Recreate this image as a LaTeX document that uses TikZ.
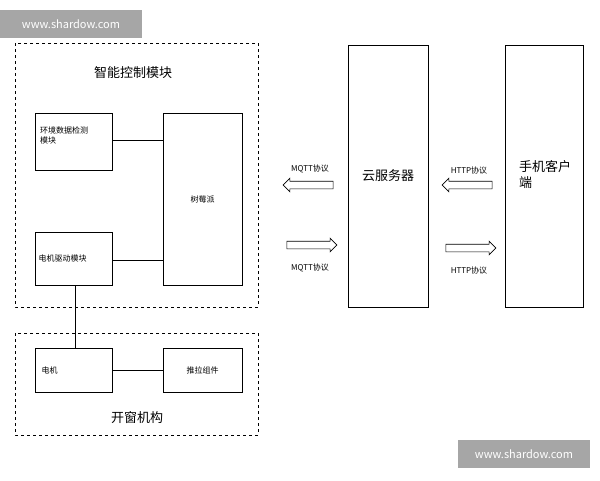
\documentclass[tikz,border=0pt]{standalone}
\usepackage{fontspec}
\setmainfont{Noto Sans CJK SC}
\usetikzlibrary{shapes.arrows}
\begin{document}
\begin{tikzpicture}[x=1pt,y=-1pt,
 box/.style={draw,line width=0.6pt,inner sep=0pt},
 dbox/.style={draw,dashed,line width=0.7pt},
 harrow/.style={single arrow,draw,line width=0.6pt,inner xsep=0pt,inner ysep=3.5pt,single arrow head extend=3pt,minimum height=50pt},
 lbl/.style={font=\fontsize{8}{10}\selectfont},
 wm/.style={fill=gray!70,text=white,font=\fontsize{11}{13}\selectfont,inner sep=0pt}]
\useasboundingbox (0,0) rectangle (600,480);
\node[wm,minimum width=142pt,minimum height=28pt] (wm1) at (71,24) {www.shardow.com};
\node[wm,minimum width=132pt,minimum height=28pt] (wm2) at (524,454) {www.shardow.com};
\draw[dbox] (15,43) rectangle (258,307);
\node[font=\fontsize{13}{15}\selectfont] (t1) at (133,73) {智能控制模块};
\draw[dbox] (15,333) rectangle (258,435);
\node[font=\fontsize{13}{15}\selectfont] (t2) at (137,418) {开窗机构};
\node[box,minimum width=77pt,minimum height=57pt] (env) at (73.5,141.5) {};
\node[lbl,align=left,anchor=north west] at (env.north west) [xshift=2pt,yshift=-10pt] {环境数据检测\\模块};
\node[box,minimum width=79pt,minimum height=172pt,lbl] (pi) at (202.5,199) {树莓派};
\node[box,minimum width=77pt,minimum height=53pt] (drv) at (73.5,258.5) {};
\node[lbl,anchor=west] at (35,258) {电机驱动模块};
\node[box,minimum width=77pt,minimum height=44pt] (mot) at (73.5,370) {};
\node[lbl,anchor=west] at (38,370) {电机};
\node[box,minimum width=79pt,minimum height=44pt,lbl] (push) at (202.5,370) {推拉组件};
\draw (env.east|-0,140) -- (pi.west|-0,140);
\draw (drv.east|-0,260) -- (pi.west|-0,260);
\draw (75,285) -- (75,348);
\draw (mot) -- (push);
\node[box,minimum width=80pt,minimum height=262pt,font=\fontsize{13}{15}\selectfont] (cloud) at (388,176) {云服务器};
\node[box,minimum width=78pt,minimum height=262pt] (phone) at (544,176) {};
\node[font=\fontsize{13}{16}\selectfont,align=left] at (545,175) {手机客户\\端};
\node[harrow,shape border rotate=180] (a1) at (310,185) {};
\node[lbl] at (310,169) {MQTT协议};
\node[harrow] (a2) at (310,245) {};
\node[lbl] at (310,268) {MQTT协议};
\node[harrow,shape border rotate=180] (a3) at (469,185) {};
\node[lbl] at (469,170) {HTTP协议};
\node[harrow] (a4) at (469,248) {};
\node[lbl] at (469,270) {HTTP协议};
\end{tikzpicture}
\end{document}
